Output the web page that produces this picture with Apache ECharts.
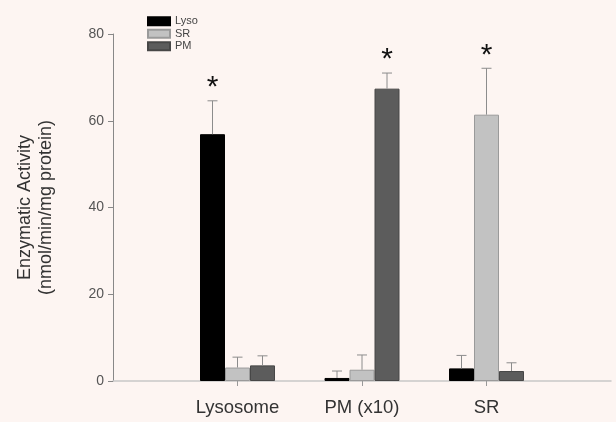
<!DOCTYPE html>
<html>
<head>
<meta charset="utf-8">
<script src="https://cdn.jsdelivr.net/npm/echarts@6/dist/echarts.min.js"></script>
<style>
html,body{margin:0;padding:0;background:#fdf5f2;}
#chart{width:616px;height:422px;}
</style>
</head>
<body>
<div id="chart"></div>
<script>
// Categories (padded with empty slots so the axis extends past the groups)
var categories = ['', 'Lysosome', 'PM (x10)', 'SR', ''];
var seriesNames = ['Lyso', 'SR', 'PM'];
// Mean values per category (Lysosome, PM (x10), SR)
var lysoVals = [56.9, 0.7, 2.9];
var srVals   = [3.1, 2.6, 61.4];
var pmVals   = [3.6, 67.4, 2.3];
// Upper error (SEM) per category
var lysoErr = [7.7, 1.6, 3.0];
var srErr   = [2.4, 3.4, 10.7];
var pmErr   = [2.2, 3.6, 1.9];
// Which series carries the significance star in each category
var starSeries = [0, 2, 1];
var yTicks = [0, 20, 40, 60, 80];

var colors = ['#000000', '#c2c2c2', '#5c5c5c'];
var borders = ['#000000', '#9a9a9a', '#474747'];
var BAR_W = 25;
var FONT = 'Liberation Sans, Arial, sans-serif';

var vals = [lysoVals, srVals, pmVals];
var errs = [lysoErr, srErr, pmErr];

function pad(arr) { return [null].concat(arr).concat([null]); }

var series = [];
seriesNames.forEach(function (name, i) {
  series.push({
    name: name,
    type: 'bar',
    data: pad(vals[i]),
    barWidth: BAR_W,
    barGap: '0%',
    itemStyle: { color: colors[i], borderColor: borders[i], borderWidth: 1 },
    z: 2
  });
});

seriesNames.forEach(function (name, i) {
  var d = vals[i].map(function (v, k) { return [k + 1, v, errs[i][k], i]; });
  series.push({
    type: 'custom',
    name: name + ' err',
    data: d,
    z: 5,
    silent: true,
    renderItem: function (params, api) {
      var c = api.value(0), v = api.value(1), e = api.value(2), si = api.value(3);
      var off = (si - 1) * BAR_W;
      var p0 = api.coord([c, v]);
      var p1 = api.coord([c, v + e]);
      var x = p0[0] + off;
      var children = [
        { type: 'line', shape: { x1: x, y1: p0[1], x2: x, y2: p1[1] }, style: { stroke: '#8c8c8c', lineWidth: 1 } },
        { type: 'line', shape: { x1: x - 5, y1: p1[1], x2: x + 5, y2: p1[1] }, style: { stroke: '#8c8c8c', lineWidth: 1 } }
      ];
      if (starSeries[c - 1] === si) {
        children.push({ type: 'text', style: { text: '*', x: x, y: p1[1] + 2, fill: '#111', font: '30px ' + FONT, align: 'center', verticalAlign: 'bottom' } });
      }
      return { type: 'group', children: children };
    }
  });
});

var chart = echarts.init(document.getElementById('chart'));
chart.setOption({
  backgroundColor: '#fdf5f2',
  animation: false,
  grid: { left: 113, right: 5, top: 34, bottom: 41, containLabel: false, outerBoundsMode: 'none' },
  legend: {
    data: seriesNames,
    orient: 'vertical',
    left: 147,
    top: 15,
    padding: 0,
    itemWidth: 22,
    itemHeight: 8,
    itemGap: 0,
    textStyle: { fontSize: 11, color: '#444', fontFamily: FONT, lineHeight: 12.5 },
    icon: 'rect'
  },
  xAxis: {
    type: 'category',
    data: categories,
    boundaryGap: false,
    axisLine: { lineStyle: { color: '#c8c8c8', width: 1.5 } },
    axisTick: { show: true, length: 5, interval: function (idx) { return idx > 0 && idx < 4; }, lineStyle: { color: '#999' } },
    axisLabel: { fontSize: 18.5, color: '#333', fontFamily: FONT, margin: 17, interval: 0 }
  },
  yAxis: {
    type: 'value',
    min: 0, max: 80, interval: 20,
    name: 'Enzymatic Activity\n(nmol/min/mg protein)',
    nameLocation: 'middle',
    nameGap: 56,
    nameRotate: 90,
    nameTextStyle: { fontSize: 18, color: '#333', fontFamily: FONT, lineHeight: 21 },
    axisLine: { show: true, lineStyle: { color: '#888' } },
    axisTick: { show: true, length: 5, lineStyle: { color: '#888' } },
    splitLine: { show: false },
    axisLabel: { fontSize: 14, color: '#555', fontFamily: FONT, margin: 9,
      formatter: function (v) { return yTicks.indexOf(v) >= 0 ? String(v) : ''; } }
  },
  series: series
});
</script>
</body>
</html>
